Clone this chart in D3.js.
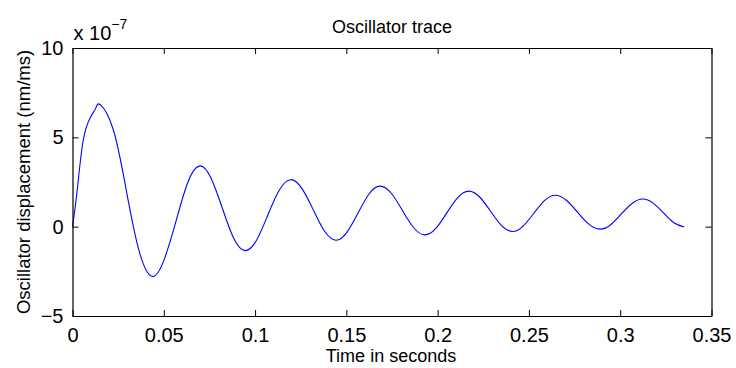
<!DOCTYPE html>
<html>
<head>
<meta charset="utf-8">
<script src="https://cdn.jsdelivr.net/npm/d3@7.9.0/dist/d3.min.js"></script>
<style>
  html, body { margin: 0; padding: 0; background: #fff; }
  svg { display: block; font-family: "Liberation Sans", Arial, Helvetica, sans-serif; }
</style>
</head>
<body>
<svg id="chart" width="736" height="368"></svg>
<script>
// time (s) and displacement (x 1e-7 nm/ms)
const timeSec = [
  0, 0.0026, 0.0059, 0.0100, 0.0128, 0.0153,
  0.0224, 0.0295, 0.0365, 0.0436,
  0.0501, 0.0567, 0.0632, 0.0697,
  0.0759, 0.0821, 0.0883, 0.0945,
  0.1008, 0.1070, 0.1133, 0.1195,
  0.1257, 0.1319, 0.1381, 0.1443,
  0.1503, 0.1564, 0.1624, 0.1684,
  0.1746, 0.1807, 0.1869, 0.1930,
  0.1990, 0.2050, 0.2110, 0.2170,
  0.2230, 0.2290, 0.2350, 0.2410,
  0.2468, 0.2527, 0.2585, 0.2643,
  0.2705, 0.2766, 0.2828, 0.2889,
  0.2948, 0.3006, 0.3065, 0.3123,
  0.3180, 0.3237, 0.3294, 0.3351
];
const displacement = [
  0, 2.05, 4.85, 6.15, 6.65, 6.82,
  5.41, 2.02, -1.37, -2.78,
  -1.87, 0.31, 2.49, 3.40,
  2.71, 1.03, -0.65, -1.34,
  -0.76, 0.65, 2.05, 2.63,
  2.13, 0.94, -0.26, -0.76,
  -0.32, 0.76, 1.83, 2.27,
  1.87, 0.91, -0.06, -0.46,
  -0.10, 0.77, 1.63, 1.99,
  1.66, 0.86, 0.06, -0.27,
  0.03, 0.75, 1.46, 1.76,
  1.48, 0.81, 0.14, -0.14,
  0.11, 0.71, 1.30, 1.55,
  1.32, 0.77, 0.22, -0.02
];
const xTicks = [0, 0.05, 0.1, 0.15, 0.2, 0.25, 0.3, 0.35];
const yTicks = [-5, 0, 5, 10];

const data = timeSec.map((t, i) => ({ t: t, v: displacement[i] }));

const svg = d3.select('#chart');
const axLeft = 72.5, axRight = 711.5, axTop = 48, axBottom = 316;

const x = d3.scaleLinear().domain([0, 0.35]).range([axLeft, axRight]);
const y = d3.scaleLinear().domain([-5, 10]).range([axBottom, axTop]);

svg.append('rect').attr('width', 736).attr('height', 368).attr('fill', '#fff');

// the trace
const line = d3.line()
  .x(d => x(d.t))
  .y(d => y(d.v))
  .curve(d3.curveNatural);

svg.append('path')
  .datum(data)
  .attr('d', line)
  .attr('fill', 'none')
  .attr('stroke', '#0000ff')
  .attr('stroke-width', 1.1);

// axes: inward ticks on all four sides, matlab style
const fmt = d => d === 0 ? '0' : String(d).replace('-', '\u2212');

const gB = svg.append('g').attr('transform', `translate(0,${axBottom})`)
  .call(d3.axisBottom(x).tickValues(xTicks).tickSizeInner(-6).tickSizeOuter(0).tickPadding(12).tickFormat(fmt));
const gT = svg.append('g').attr('transform', `translate(0,${axTop})`)
  .call(d3.axisTop(x).tickValues(xTicks).tickSizeInner(-6).tickSizeOuter(0).tickFormat(''));
const gL = svg.append('g').attr('transform', `translate(${axLeft},0)`)
  .call(d3.axisLeft(y).tickValues(yTicks).tickSizeInner(-6).tickSizeOuter(0).tickPadding(9).tickFormat(fmt));
const gR = svg.append('g').attr('transform', `translate(${axRight},0)`)
  .call(d3.axisRight(y).tickValues(yTicks).tickSizeInner(-6).tickSizeOuter(0).tickFormat(''));

[gB, gT, gL, gR].forEach(g => {
  g.select('.domain').attr('stroke', '#000').attr('stroke-width', 1.2);
  g.selectAll('.tick line').attr('stroke', '#000').attr('stroke-width', 1);
  g.selectAll('.tick text')
    .attr('fill', '#000')
    .attr('font-size', 20)
    .attr('font-family', '"Liberation Sans", Arial, sans-serif');
});
gB.selectAll('.tick text').attr('dy', '0.71em');

// exponent label
const expo = svg.append('text')
  .attr('x', axLeft + 1)
  .attr('y', 40)
  .attr('font-size', 20)
  .attr('fill', '#000');
expo.append('tspan').text('x 10');
expo.append('tspan').attr('font-size', 14).attr('dy', -11).text('\u22127');

// title and labels
svg.append('text')
  .attr('x', (axLeft + axRight) / 2)
  .attr('y', 33)
  .attr('text-anchor', 'middle')
  .attr('font-size', 18)
  .attr('fill', '#000')
  .text('Oscillator trace');

svg.append('text')
  .attr('x', (axLeft + axRight) / 2 - 1)
  .attr('y', 362)
  .attr('text-anchor', 'middle')
  .attr('font-size', 18)
  .attr('fill', '#000')
  .text('Time in seconds');

svg.append('text')
  .attr('transform', `translate(30,${(axTop + axBottom) / 2}) rotate(-90)`)
  .attr('text-anchor', 'middle')
  .attr('font-size', 18.5)
  .attr('fill', '#000')
  .text('Oscillator displacement (nm/ms)');
</script>
</body>
</html>
